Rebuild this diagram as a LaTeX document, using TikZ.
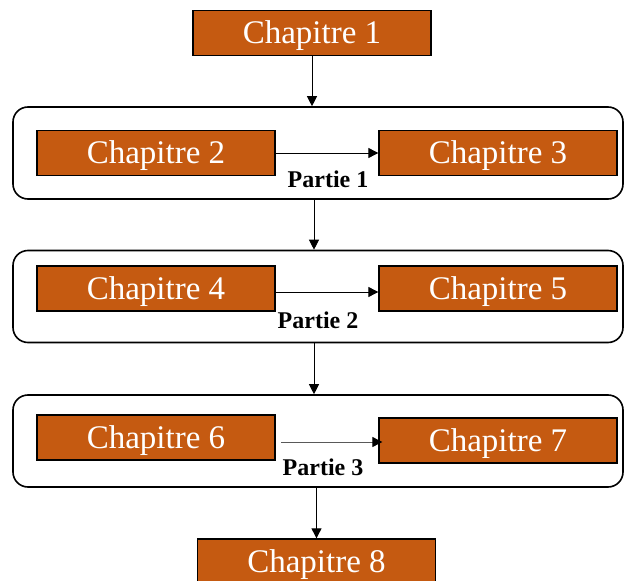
\documentclass[tikz,border=0pt]{standalone}
\usepackage{fontspec}
\setmainfont{Liberation Serif}
\usetikzlibrary{arrows.meta}

\definecolor{chaporange}{HTML}{C55A11}

\tikzset{
	chap/.style={draw=black, line width=1.3pt, fill=chaporange, text=white,
		minimum width=238pt, minimum height=45pt, inner sep=0pt,
		text height=21pt, text depth=0pt,
		font=\fontsize{33}{36}\selectfont},
	partframe/.style={draw=black, line width=1.6pt, rounded corners=15pt,
		minimum width=610pt, minimum height=92pt, inner sep=0pt},
	partlabel/.style={font=\fontsize{24}{26}\selectfont\bfseries, inner sep=0pt},
	flow/.style={line width=0.9pt, -{Triangle[length=10pt,width=10pt]}}
}

\begin{document}
\begin{tikzpicture}[x=1pt,y=-1pt]
	\useasboundingbox (0,0) rectangle (625,581);

	% frames
	\node[partframe] (p1) at (318,153) {};
	\node[partframe] (p2) at (318,296.5) {};
	\node[partframe] (p3) at (318,441) {};

	% chapters
	\node[chap] (c1) at (312,33) {Chapitre 1};
	\node[chap] (c2) at (156,153) {Chapitre 2};
	\node[chap] (c3) at (498,153) {Chapitre 3};
	\node[chap] (c4) at (156,288.5) {Chapitre 4};
	\node[chap] (c5) at (498,288.5) {Chapitre 5};
	\node[chap] (c6) at (156,437.5) {Chapitre 6};
	\node[chap] (c7) at (498,440.5) {Chapitre 7};
	\node[chap] (c8) at (316.5,561.5) {Chapitre 8};

	\node[partlabel] (l1) at (328,179) {Partie 1};
	\node[partlabel] (l2) at (318,320) {Partie 2};
	\node[partlabel] (l3) at (323,467) {Partie 3};

	% arrows
	\draw[flow] (c1) -- (c1 |- p1.north);
	\draw[flow] ([xshift=2pt]p1.south -| c1) -- ([xshift=2pt]p2.north -| c1);
	\draw[flow] ([xshift=2pt]p2.south -| c1) -- ([xshift=2pt]p3.north -| c1);
	\draw[flow] (p3.south -| c8) -- (c8);

	\draw[flow] (c2) -- (c3);
	\draw[flow] ([yshift=-3.5pt]c4.east) -- ([yshift=-3.5pt]c5.west);
	\coordinate (a6) at (281,442);
	\draw[flow] (a6) -- (a6 -| c7.west) -- +(4,0);
\end{tikzpicture}
\end{document}
